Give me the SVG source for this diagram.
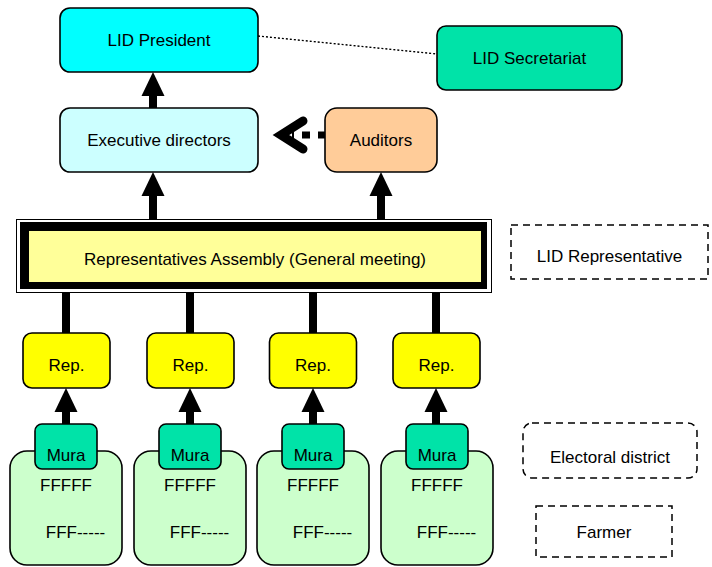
<svg xmlns="http://www.w3.org/2000/svg" width="712" height="567" viewBox="0 0 712 567">
<style>
text{font-family:"Liberation Sans",Arial,sans-serif;font-size:17px;fill:#000;text-anchor:middle}
.box{stroke:#000;stroke-width:1.6}
.shaft{stroke:#000;stroke-width:8;fill:none}
.head{fill:#000}
.dash{fill:none;stroke:#000;stroke-width:1.5;stroke-dasharray:7 5}
</style>
<rect width="712" height="567" fill="#fff"/>
<g id="connectors">
<line x1="258" y1="36" x2="437" y2="54" stroke="#000" stroke-width="1.4" stroke-dasharray="2 2"/>
<line class="shaft" x1="153" y1="94" x2="153" y2="108"/>
<polygon class="head" points="153,72 141.5,96 164.5,96"/>
<line class="shaft" x1="153" y1="194" x2="153" y2="222"/>
<polygon class="head" points="153,172 141.5,196 164.5,196"/>
<line class="shaft" x1="381" y1="194" x2="381" y2="222"/>
<polygon class="head" points="381,172 369.5,196 392.5,196"/>
<line x1="326" y1="135" x2="292" y2="135" stroke="#000" stroke-width="7" stroke-dasharray="8 8"/>
<polyline points="303,121 281,135 303,149" fill="none" stroke="#000" stroke-width="9" stroke-linecap="round" stroke-linejoin="miter"/>
<line class="shaft" x1="66" y1="289" x2="66" y2="333"/>
<line class="shaft" x1="190" y1="289" x2="190" y2="333"/>
<line class="shaft" x1="313" y1="289" x2="313" y2="333"/>
<line class="shaft" x1="436" y1="289" x2="436" y2="333"/>
<line class="shaft" x1="66" y1="410" x2="66" y2="424"/>
<polygon class="head" points="66,388 54.5,412 77.5,412"/>
<line class="shaft" x1="190" y1="410" x2="190" y2="424"/>
<polygon class="head" points="190,388 178.5,412 201.5,412"/>
<line class="shaft" x1="313" y1="410" x2="313" y2="424"/>
<polygon class="head" points="313,388 301.5,412 324.5,412"/>
<line class="shaft" x1="436" y1="410" x2="436" y2="424"/>
<polygon class="head" points="436,388 424.5,412 447.5,412"/>
</g>
<g id="president"><rect class="box" x="60" y="8" width="198" height="64" rx="10" fill="#00FFFF"/><text x="159" y="46">LID President</text></g>
<g id="secretariat"><rect class="box" x="437" y="26" width="185" height="64" rx="9" fill="#00E3A8"/><text x="529.5" y="64">LID Secretariat</text></g>
<g id="executive"><rect class="box" x="60" y="108" width="198" height="64" rx="10" fill="#CCFFFF"/><text x="159" y="146">Executive directors</text></g>
<g id="auditors"><rect class="box" x="325" y="108" width="112" height="64" rx="12" fill="#FFCC99"/><text x="381" y="146">Auditors</text></g>
<g id="assembly">
<rect x="16.5" y="219.5" width="475" height="73" fill="#fff" stroke="#000" stroke-width="1"/>
<rect x="20" y="222" width="467" height="67" fill="#000"/>
<rect x="29" y="231" width="452" height="51" fill="#FFFF99"/>
<text x="255" y="265">Representatives Assembly (General meeting)</text>
</g>
<g id="lid-representative"><rect class="dash" x="511" y="225" width="197" height="54"/><text x="609.5" y="262">LID Representative</text></g>
<g id="rep1"><rect class="box" x="23" y="333" width="87" height="55" rx="9" fill="#FFFF00"/><text x="66.5" y="371">Rep.</text></g>
<g id="rep2"><rect class="box" x="147" y="333" width="87" height="55" rx="9" fill="#FFFF00"/><text x="190.5" y="371">Rep.</text></g>
<g id="rep3"><rect class="box" x="269.5" y="333" width="87" height="55" rx="9" fill="#FFFF00"/><text x="313" y="371">Rep.</text></g>
<g id="rep4"><rect class="box" x="393" y="333" width="87" height="55" rx="9" fill="#FFFF00"/><text x="436.5" y="371">Rep.</text></g>
<g id="district1"><rect class="box" x="10" y="451" width="112" height="114" rx="17" fill="#CCFFCC"/><rect class="box" x="35" y="424" width="62" height="45" rx="7" fill="#00E3A8"/><text x="66" y="461">Mura</text><text x="66" y="491">FFFFF</text><text x="75.5" y="538">FFF-----</text></g>
<g id="district2"><rect class="box" x="134" y="451" width="112" height="114" rx="17" fill="#CCFFCC"/><rect class="box" x="159" y="424" width="62" height="45" rx="7" fill="#00E3A8"/><text x="190" y="461">Mura</text><text x="190" y="491">FFFFF</text><text x="199.5" y="538">FFF-----</text></g>
<g id="district3"><rect class="box" x="257" y="451" width="112" height="114" rx="17" fill="#CCFFCC"/><rect class="box" x="282" y="424" width="62" height="45" rx="7" fill="#00E3A8"/><text x="313" y="461">Mura</text><text x="313" y="491">FFFFF</text><text x="322.5" y="538">FFF-----</text></g>
<g id="district4"><rect class="box" x="381" y="451" width="112" height="114" rx="17" fill="#CCFFCC"/><rect class="box" x="406" y="424" width="62" height="45" rx="7" fill="#00E3A8"/><text x="437" y="461">Mura</text><text x="437" y="491">FFFFF</text><text x="446.5" y="538">FFF-----</text></g>
<g id="electoral-district"><rect class="dash" x="523" y="423" width="174" height="55" rx="9"/><text x="610" y="463">Electoral district</text></g>
<g id="farmer"><rect class="dash" x="536" y="506" width="136" height="51"/><text x="604" y="538">Farmer</text></g>
</svg>
